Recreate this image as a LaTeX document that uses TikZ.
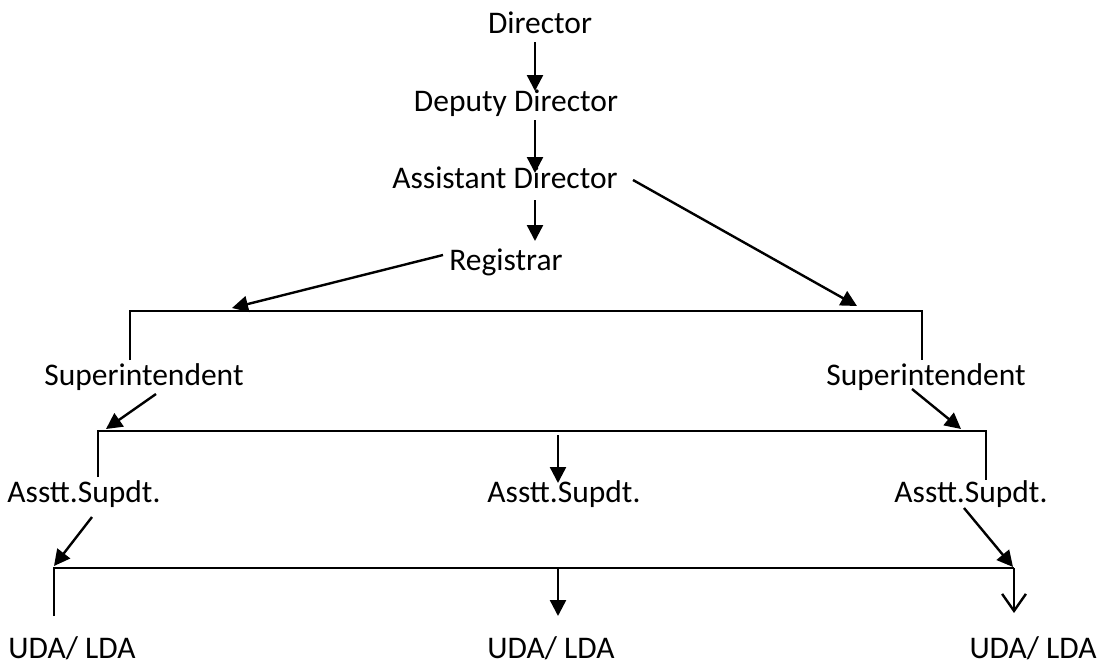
\documentclass[tikz,border=0pt]{standalone}
\usepackage{fontspec}
\setmainfont{Carlito}
\usetikzlibrary{arrows.meta}
\begin{document}
\begin{tikzpicture}[x=1pt,y=-1pt,
  lbl/.style={anchor=base,inner sep=0pt,font=\fontsize{31.5}{36}\selectfont},
  arr/.style={line width=2.4pt,-{Triangle[length=16pt,width=16pt]}},
  openarr/.style={line width=2.4pt,-{Straight Barb[length=17pt,width=30pt,line width=2.4pt,angle'=70]}},
  bar/.style={line width=2pt}]
\useasboundingbox (0,0) rectangle (1099,664);
% labels
\node[lbl] (dir) at (540,33) {Director};
\node[lbl] (dep) at (516,111) {Deputy Director};
\node[lbl] (asd) at (505,188) {Assistant Director};
\node[lbl] (reg) at (506,270) {Registrar};
\node[lbl] (supL) at (144,385) {Superintendent};
\node[lbl] (supR) at (926,385) {Superintendent};
\node[lbl] (asL) at (84,502) {Asstt.Supdt.};
\node[lbl] (asM) at (564,502) {Asstt.Supdt.};
\node[lbl] (asR) at (971,502) {Asstt.Supdt.};
\node[lbl] (udL) at (72,658) {UDA/ LDA};
\node[lbl] (udM) at (551,658) {UDA/ LDA};
\node[lbl] (udR) at (1033,658) {UDA/ LDA};
% coordinates
\coordinate (d1a) at (535,42);  \coordinate (d1b) at (535,91);
\coordinate (d2a) at (535,120); \coordinate (d2b) at (535,173);
\coordinate (d3a) at (535,200); \coordinate (d3b) at (535,241);
\coordinate (adR) at (633,180); \coordinate (adT) at (857,306);
\coordinate (rgL) at (443,255); \coordinate (rgT) at (232,308);
\coordinate (b1L) at (130,311); \coordinate (b1R) at (922,311);
\coordinate (b1Ld) at (130,360); \coordinate (b1Rd) at (922,360);
\coordinate (sLs) at (156,394); \coordinate (sLt) at (106,429);
\coordinate (sRs) at (912,389); \coordinate (sRt) at (961,429);
\coordinate (b2L) at (98,431); \coordinate (b2R) at (986,431);
\coordinate (b2Ld) at (98,477); \coordinate (b2Rd) at (986,480);
\coordinate (m2a) at (558,435); \coordinate (m2b) at (558,483);
\coordinate (aLs) at (92,517); \coordinate (aLt) at (54,566);
\coordinate (aRs) at (964,508); \coordinate (aRt) at (1013,567);
\coordinate (b3L) at (54,568); \coordinate (b3R) at (1014,568);
\coordinate (b3Ld) at (54,616);
\coordinate (m3a) at (558,568); \coordinate (m3b) at (558,616);
\coordinate (r3b) at (1014,613);
% connectors
\draw[arr] (d1a) -- (d1b);
\draw[arr] (d2a) -- (d2b);
\draw[arr] (d3a) -- (d3b);
\draw[arr] (adR) -- (adT);
\draw[arr] (rgL) -- (rgT);
\draw[bar] (b1Ld) -- (b1L) -- (b1R) -- (b1Rd);
\draw[arr] (sLs) -- (sLt);
\draw[arr] (sRs) -- (sRt);
\draw[bar] (b2Ld) -- (b2L) -- (b2R) -- (b2Rd);
\draw[arr] (m2a) -- (m2b);
\draw[arr] (aLs) -- (aLt);
\draw[arr] (aRs) -- (aRt);
\draw[bar] (b3Ld) -- (b3L) -- (b3R);
\draw[arr] (m3a) -- (m3b);
\draw[openarr] (b3R) -- (r3b);
\end{tikzpicture}
\end{document}
